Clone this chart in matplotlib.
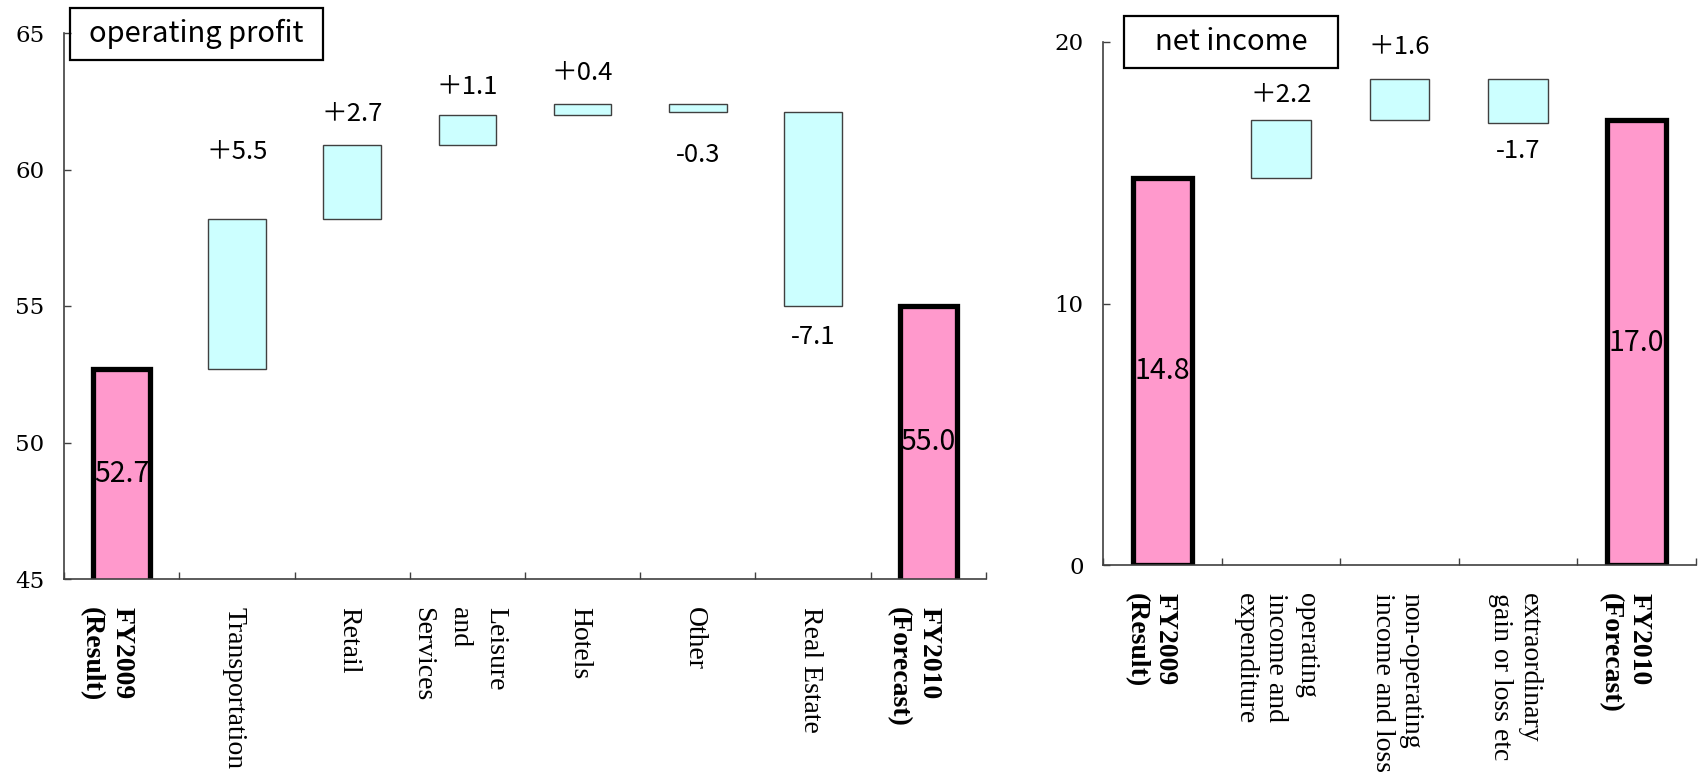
import numpy as np
import matplotlib
matplotlib.use("Agg")
import matplotlib.pyplot as plt
import matplotlib.transforms as mtransforms
from matplotlib.patches import Rectangle

# ---- operating profit bridge (billion yen) ----
op_labels = ["FY2009\n(Result)", "Transportation", "Retail", "Leisure\nand\nServices",
             "Hotels", "Other", "Real Estate", "FY2010\n(Forecast)"]
op_start = 52.7
op_changes = [5.5, 2.7, 1.1, 0.4, -0.3, -7.1]
op_end = 55.0
op_ticks = [45, 50, 55, 60, 65]

# ---- net income bridge (billion yen) ----
ni_labels = ["FY2009\n(Result)", "operating\nincome and\nexpenditure",
             "non-operating\nincome and loss", "extraordinary\ngain or loss etc",
             "FY2010\n(Forecast)"]
ni_start = 14.8
ni_changes = [2.2, 1.6, -1.7]
ni_end = 17.0
ni_ticks = [0, 10, 20]

W, H, DPI = 1700, 775, 100
PINK = "#FF99CC"
CYAN = "#CCFFFF"
AXIS = "#404040"
SERIF = "Liberation Serif"
TICKFONT = "DejaVu Serif"
SANS = ["Noto Sans CJK JP", "DejaVu Sans"]

fig = plt.figure(figsize=(W / DPI, H / DPI), dpi=DPI)


def px_axes(x0, y0, x1, y1):
    return fig.add_axes([x0 / W, 1 - y1 / H, (x1 - x0) / W, (y1 - y0) / H])


def title_box(x0, y0, x1, y1, text):
    fig.add_artist(Rectangle((x0 / W, 1 - y1 / H), (x1 - x0) / W, (y1 - y0) / H,
                             transform=fig.transFigure, fill=False,
                             edgecolor="black", linewidth=1.6))
    fig.text((x0 + x1) / 2 / W, 1 - (y0 + y1) / 2 / H, text, ha="center",
             va="center", fontsize=21, family=SANS)


def bridge(ax, labels, start, changes, end, ylim, yticks, gaps, spacings, shifts):
    n = len(labels)
    centers = np.arange(n) + 0.5
    ax.set_xlim(0, n)
    ax.set_ylim(*ylim)

    # start / end totals
    for xc, val in ((centers[0], start), (centers[-1], end)):
        ax.bar(xc, val, width=0.5, color=PINK, edgecolor="black", linewidth=3.8,
               zorder=2)
        ax.text(xc, (ylim[0] + val) / 2, f"{val:.1f}", ha="center", va="center",
                fontsize=20.5, family=SANS, zorder=3)

    # floating change bars
    level = start
    for i, d in enumerate(changes):
        xc = centers[i + 1]
        new = level + d
        ax.bar(xc, abs(d), bottom=min(level, new), width=0.5, color=CYAN,
               edgecolor=AXIS, linewidth=1.0, zorder=2)
        if d >= 0:
            txt, off = f"＋{d:.1f}", gaps[i]
        else:
            txt, off = f"-{abs(d):.1f}", -gaps[i]
        ax.annotate(txt, (xc, new), xytext=(0, off), textcoords="offset points",
                    ha="center", va="center", fontsize=18.5, family=SANS,
                    annotation_clip=False)
        level = new

    # axes styling
    for side in ("top", "right"):
        ax.spines[side].set_visible(False)
    for side in ("left", "bottom"):
        ax.spines[side].set_color(AXIS)
        ax.spines[side].set_linewidth(1.2)
    ax.set_xticks(np.arange(n + 1))
    ax.set_xticklabels([])
    ax.tick_params(axis="x", direction="in", length=5, width=1, color=AXIS)
    ax.set_yticks(yticks, [str(v) for v in yticks], fontfamily=TICKFONT, fontsize=16.5)
    ax.tick_params(axis="y", direction="in", length=5, width=1, color=AXIS, pad=14)

    # rotated category labels
    base = mtransforms.blended_transform_factory(ax.transData, ax.transAxes)
    for i, lab in enumerate(labels):
        bold = lab.startswith("FY")
        tr = base + mtransforms.ScaledTranslation(shifts[i] / DPI, -28 / DPI,
                                                  fig.dpi_scale_trans)
        ax.text(centers[i], 0, lab, transform=tr, rotation=270, ha="center",
                va="top", multialignment="left", family=SERIF, fontsize=20,
                fontweight="bold" if bold else "normal", linespacing=spacings[i],
                clip_on=False)


ax1 = px_axes(64, 33, 986, 579)
bridge(ax1, op_labels, op_start, op_changes, op_end, (45, 65), op_ticks,
       gaps=[48, 22, 20, 22, 31, 22],
       spacings=[1.3, 1.2, 1.2, 1.6, 1.2, 1.2, 1.2, 1.3],
       shifts=[-15, -3, -3, -8, -3, -3, -3, -15])

ax2 = px_axes(1103, 42, 1696, 565)
bridge(ax2, ni_labels, ni_start, ni_changes, ni_end, (0, 20), ni_ticks,
       gaps=[18, 23, 20],
       spacings=[1.22, 1.3, 1.2, 1.2, 1.22],
       shifts=[-12, -5, -3, -3, -12])

title_box(70, 8, 323, 60, "operating profit")
title_box(1124, 16, 1338, 68, "net income")

fig.savefig("out.png", dpi=DPI)
